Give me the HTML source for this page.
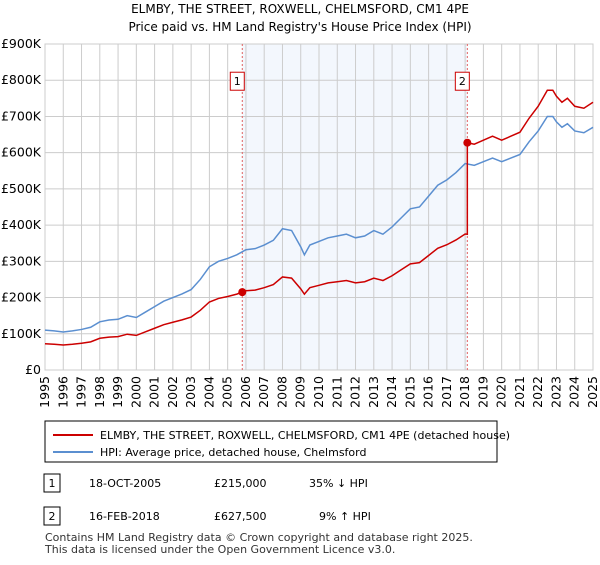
<!DOCTYPE html>
<html><head><meta charset="utf-8"><style>
body{margin:0;background:#fff;font-family:"Liberation Sans","DejaVu Sans",sans-serif;}
svg text{font-family:"DejaVu Sans","Liberation Sans",sans-serif;}
</style></head><body>
<svg width="600" height="560" viewBox="0 0 600 560">
<text x="300" y="13" text-anchor="middle" font-size="12">ELMBY, THE STREET, ROXWELL, CHELMSFORD, CM1 4PE</text>
<text x="300" y="31" text-anchor="middle" font-size="12">Price paid vs. HM Land Registry's House Price Index (HPI)</text>
<g id="plot"></g>
<rect x="45" y="421" width="452" height="41" fill="#fff" stroke="#000"/>
<line x1="53" y1="435" x2="93" y2="435" stroke="#cc0000" stroke-width="2"/>
<text x="100" y="439" font-size="11">ELMBY, THE STREET, ROXWELL, CHELMSFORD, CM1 4PE (detached house)</text>
<line x1="53" y1="452" x2="93" y2="452" stroke="#5b8fd0" stroke-width="2"/>
<text x="100" y="456" font-size="11">HPI: Average price, detached house, Chelmsford</text>
<g>
<rect x="44" y="474" width="16" height="18" fill="#fff" stroke="#000"/><text x="52" y="487" font-size="11" text-anchor="middle">1</text>
<text x="89" y="487" font-size="11">18-OCT-2005</text><text x="214" y="487" font-size="11">£215,000</text><text x="309" y="487" font-size="11">35% ↓ HPI</text></g>
<g>
<rect x="44" y="507" width="16" height="18" fill="#fff" stroke="#000"/><text x="52" y="520" font-size="11" text-anchor="middle">2</text>
<text x="89" y="520" font-size="11">16-FEB-2018</text><text x="214" y="520" font-size="11">£627,500</text><text x="319" y="520" font-size="11">9% ↑ HPI</text></g>
<text x="45" y="541" font-size="11" fill="#333">Contains HM Land Registry data © Crown copyright and database right 2025.</text>
<text x="45" y="553" font-size="11" fill="#333">This data is licensed under the Open Government Licence v3.0.</text>
</svg>
<script>
const hpiYears=[1995,1995.5,1996,1996.5,1997,1997.5,1998,1998.5,1999,1999.5,2000,2000.5,2001,2001.5,2002,2002.5,2003,2003.5,2004,2004.5,2005,2005.5,2006,2006.5,2007,2007.5,2008,2008.5,2009,2009.2,2009.5,2010,2010.5,2011,2011.5,2012,2012.5,2013,2013.5,2014,2014.5,2015,2015.5,2016,2016.5,2017,2017.5,2018,2018.5,2019,2019.5,2020,2020.5,2021,2021.5,2022,2022.5,2022.8,2023,2023.3,2023.6,2024,2024.5,2025];
const hpiValues=[110,108,105,108,112,118,133,138,140,150,145,160,175,190,200,210,222,250,285,300,308,318,332,335,345,358,390,385,340,318,345,355,365,370,375,365,370,385,375,395,420,445,450,480,510,525,545,570,565,575,585,575,585,595,630,660,700,700,685,670,680,660,655,670];
const saleDates=[2005.8,2018.12];
const salePrices=[215,627.5];
const saleLabels=["1","2"];
const yTicks=[0,100,200,300,400,500,600,700,800,900];
const yTickLabels=["£0","£100K","£200K","£300K","£400K","£500K","£600K","£700K","£800K","£900K"];
const xTicks=[1995,1996,1997,1998,1999,2000,2001,2002,2003,2004,2005,2006,2007,2008,2009,2010,2011,2012,2013,2014,2015,2016,2017,2018,2019,2020,2021,2022,2023,2024,2025];
const X0=45,X1=593,Y0=370,Y1=44;
const xs=t=>X0+(t-1995)/30*(X1-X0);
const ys=v=>Y0-v/900*(Y0-Y1);
const g=document.getElementById('plot');const NS='http://www.w3.org/2000/svg';
function mk(tag,attrs,parent){const e=document.createElementNS(NS,tag);for(const k in attrs)e.setAttribute(k,attrs[k]);(parent||g).appendChild(e);return e;}
function hpiAt(t){for(let i=0;i<hpiYears.length-1;i++){if(t<=hpiYears[i+1]){const f=(t-hpiYears[i])/(hpiYears[i+1]-hpiYears[i]);return hpiValues[i]+f*(hpiValues[i+1]-hpiValues[i]);}}return hpiValues[hpiValues.length-1];}
let r=mk('rect',{x:xs(saleDates[0]),y:Y1,width:xs(saleDates[1])-xs(saleDates[0]),height:Y0-Y1,fill:'#eef3fc',opacity:0.7});


xTicks.forEach((t,i)=>{const l=mk('line',{x1:xs(t),x2:xs(t),y1:Y1,y2:Y0,stroke:'#ccc'});


const tx=mk('text',{x:0,y:0,'font-size':12.5,'text-anchor':'end',transform:`translate(${xs(t)+4},${Y0+6}) rotate(-90)`});tx.textContent=t;

});
yTicks.forEach((v,i)=>{const l=mk('line',{x1:X0,x2:X1,y1:ys(v),y2:ys(v),stroke:'#ccc'});


const tx=mk('text',{x:X0-4,y:ys(v)+4,'font-size':12.5,'text-anchor':'end'});tx.textContent=yTickLabels[i];

});
let ax=mk('rect',{x:X0,y:Y1,width:X1-X0,height:Y0-Y1,fill:'none',stroke:'#ccc'});


saleDates.forEach((d,i)=>{const l=mk('line',{x1:xs(d),x2:xs(d),y1:Y1,y2:Y0,stroke:'#e06060','stroke-dasharray':'2,2'});


const b=mk('rect',{x:xs(d)-12,y:ys(800)-8,width:14,height:18,fill:'#fff',stroke:'#cc0000'});


const tx=mk('text',{x:xs(d)-5,y:ys(800)+5,'font-size':11,'text-anchor':'middle'});tx.textContent=saleLabels[i];

});
const hp=hpiYears.map((t,i)=>xs(t)+','+ys(hpiValues[i])).join(' ');
const hl=mk('polyline',{points:hp,fill:'none',stroke:'#5b8fd0','stroke-width':1.5});


const r1=salePrices[0]/hpiAt(saleDates[0]),r2=salePrices[1]/hpiAt(saleDates[1]);
let pts=[];hpiYears.forEach((t,i)=>{if(t<saleDates[1])pts.push([t,hpiValues[i]*r1]);});
pts.push([saleDates[1],hpiAt(saleDates[1])*r1]);pts.push([saleDates[1],salePrices[1]]);
hpiYears.forEach((t,i)=>{if(t>saleDates[1])pts.push([t,hpiValues[i]*r2]);});
const pl=mk('polyline',{points:pts.map(p=>xs(p[0])+','+ys(p[1])).join(' '),fill:'none',stroke:'#cc0000','stroke-width':1.5});


saleDates.forEach((d,i)=>{const c=mk('circle',{cx:xs(d),cy:ys(salePrices[i]),r:4,fill:'#cc0000'});

});
</script>
</body></html>
